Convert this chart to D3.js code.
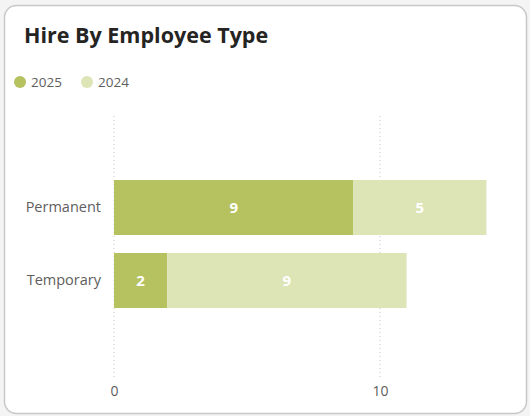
<!DOCTYPE html>
<html>
<head>
<meta charset="utf-8">
<script src="https://cdn.jsdelivr.net/npm/d3@7"></script>
<style>
  html, body { margin: 0; padding: 0; background: #f4f4f4; }
  svg { display: block; }
</style>
</head>
<body>
<svg id="chart" width="530" height="416"></svg>
<script>
// Hires per employee type, split by year
const categories = ["Permanent", "Temporary"];
const seriesNames = ["2025", "2024"];
const values2025 = [9, 2];
const values2024 = [5, 9];
const xTicks = [0, 10];
const colors = ["#b6c25f", "#dde4b6"];

const svg = d3.select("#chart");
const W = 530, H = 416;

// card
svg.append("rect")
  .attr("x", 4.5).attr("y", 5.5)
  .attr("width", W - 8).attr("height", H - 8)
  .attr("rx", 12).attr("ry", 12)
  .attr("fill", "#ffffff")
  .attr("stroke", "#c8c8c8").attr("stroke-width", 1.5);

// title
svg.append("text")
  .attr("x", 24).attr("y", 43)
  .attr("font-family", "'Open Sans', sans-serif")
  .attr("font-weight", 700)
  .attr("font-size", 21.5)
  .attr("fill", "#252423")
  .text("Hire By Employee Type");

// legend
const legend = svg.append("g").attr("transform", "translate(0,82)");
const legendX = [20, 87];
seriesNames.forEach((name, i) => {
  legend.append("circle")
    .attr("cx", legendX[i]).attr("cy", 0).attr("r", 6)
    .attr("fill", colors[i]);
  legend.append("text")
    .attr("x", legendX[i] + 11).attr("y", 0)
    .attr("dy", "0.35em")
    .attr("font-family", "'Open Sans', sans-serif")
    .attr("font-size", 13.5)
    .attr("fill", "#605e5c")
    .text(name);
});

// scales
const x = d3.scaleLinear().domain([0, 10]).range([114, 380]);
const y = d3.scaleBand().domain(categories).range([143.5, 344.5]).paddingInner(0.247).paddingOuter(0.5);

// gridlines
const gridTop = 116, gridBottom = 378;
svg.append("g")
  .selectAll("line")
  .data(xTicks)
  .join("line")
  .attr("x1", d => x(d)).attr("x2", d => x(d))
  .attr("y1", gridTop).attr("y2", gridBottom)
  .attr("stroke", "#c8c8c8")
  .attr("stroke-width", 1)
  .attr("stroke-dasharray", "1,3");

// x axis labels
const xAxis = d3.axisBottom(x).tickValues(xTicks).tickSize(0).tickPadding(0);
const xg = svg.append("g").attr("transform", "translate(0,386)").call(xAxis);
xg.select(".domain").remove();
xg.selectAll("text")
  .attr("font-family", "'Open Sans', sans-serif")
  .attr("font-size", 14)
  .attr("fill", "#605e5c");

// y axis labels
const yAxis = d3.axisLeft(y).tickSize(0).tickPadding(0);
const yg = svg.append("g").attr("transform", "translate(101,0)").call(yAxis);
yg.select(".domain").remove();
yg.selectAll("text")
  .attr("font-family", "'Open Sans', sans-serif")
  .attr("font-size", 14.5)
  .attr("fill", "#605e5c");

// stacked bars
const rows = categories.map((c, i) => ({ cat: c, "2025": values2025[i], "2024": values2024[i] }));
const stack = d3.stack().keys(seriesNames)(rows);

const layers = svg.append("g")
  .selectAll("g")
  .data(stack)
  .join("g")
  .attr("fill", (d, i) => colors[i]);

layers.selectAll("rect")
  .data(d => d)
  .join("rect")
  .attr("x", d => x(d[0]))
  .attr("y", d => y(d.data.cat))
  .attr("width", d => x(d[1]) - x(d[0]))
  .attr("height", y.bandwidth());

layers.selectAll("text")
  .data(d => d)
  .join("text")
  .attr("x", d => (x(d[0]) + x(d[1])) / 2)
  .attr("y", d => y(d.data.cat) + y.bandwidth() / 2)
  .attr("dy", "0.35em")
  .attr("text-anchor", "middle")
  .attr("font-family", "'Open Sans', sans-serif")
  .attr("font-weight", 700)
  .attr("font-size", 15)
  .attr("fill", "#ffffff")
  .text(d => d[1] - d[0]);
</script>
</body>
</html>
